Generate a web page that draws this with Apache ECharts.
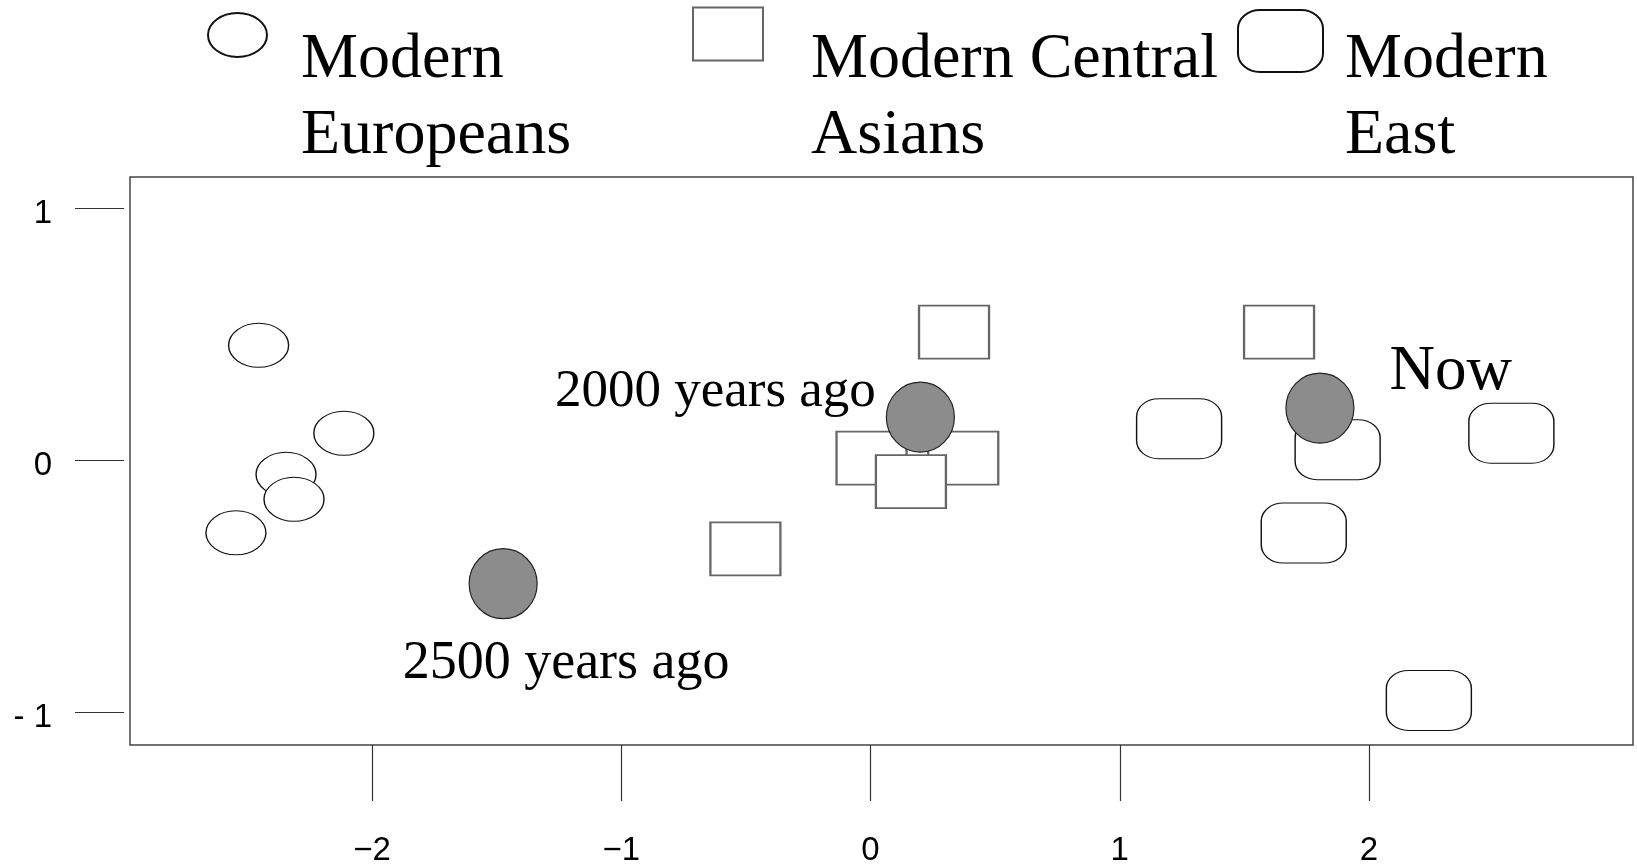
<!DOCTYPE html>
<html>
<head>
<meta charset="utf-8">
<script src="https://cdn.jsdelivr.net/npm/echarts@6/dist/echarts.min.js"></script>
<style>
html,body{margin:0;padding:0;background:#fff;}
#chart{width:1637px;height:867px;}
</style>
</head>
<body>
<div id="chart"></div>
<script>
// ---- data ----
const xTickValues = [-2, -1, 0, 1, 2];
const xTickLabels = ['\u22122', '\u22121', '0', '1', '2'];
const yTickValues = [-1, 0, 1];
const yTickLabels = ['- 1', '0', '1'];

const seriesNames = ['Modern\nEuropeans', 'Modern Central\nAsians', 'Modern\nEast'];

const europeansX = [-2.455, -2.113, -2.345, -2.313, -2.546];
const europeansY = [0.456, 0.107, -0.056, -0.155, -0.288];

const centralX = [0.335, 0.004, 0.372, 0.162, 1.639, -0.502];
const centralY = [0.508, 0.008, 0.008, -0.085, 0.508, -0.352];

const eastX = [1.238, 1.874, 2.571, 1.738, 2.240];
const eastY = [0.125, 0.042, 0.107, -0.289, -0.953];

const ancientNames = ['2500 years ago', '2000 years ago', 'Now'];
const ancientX = [-1.474, 0.200, 1.803];
const ancientY = [-0.490, 0.171, 0.207];

// ---- shapes ----
const ellipsePath = 'path://M0,22 A30,22 0 1 1 60,22 A30,22 0 1 1 0,22 Z';
const roundRectPath = 'path://M22,0 H63 A22,18 0 0 1 85,18 V42 A22,18 0 0 1 63,60 H22 A22,18 0 0 1 0,42 V18 A22,18 0 0 1 22,0 Z';
const circlePath = 'path://M0,35 A34,35 0 1 1 68,35 A34,35 0 1 1 0,35 Z';

const serif = 'Liberation Serif';
const sans = 'Liberation Sans';

function pairs(xs, ys) { return xs.map((x, i) => [x, ys[i]]); }

const ancientLabelStyle = {
  '2500 years ago': { position: 'inside', offset: [63, 80], fontSize: 54 },
  '2000 years ago': { position: 'left', distance: 10, offset: [0, -25], fontSize: 53 },
  'Now': { position: 'right', distance: 35, offset: [0, -36], fontSize: 63 }
};

const ancientData = ancientNames.map((n, i) => {
  const s = ancientLabelStyle[n];
  return {
    name: n,
    value: [ancientX[i], ancientY[i]],
    label: {
      show: true, formatter: n, position: s.position, distance: s.distance || 0,
      offset: s.offset, fontSize: s.fontSize, fontFamily: serif, color: '#000'
    }
  };
});

function makeLegend(name, icon, left, top, w, h, padTop, padLeft) {
  return {
    data: [{ name: name, icon: icon }],
    left: left, top: top, padding: 0,
    itemWidth: w, itemHeight: h,
    symbolKeepAspect: false,
    selectedMode: false,
    formatter: n => '{pad|\u00a0}\n{t|' + n.split('\n').join('}\n{t|') + '}',
    textStyle: {
      fontFamily: serif, fontSize: 64, color: '#000',
      padding: [0, 0, 0, padLeft],
      rich: {
        pad: { fontSize: 8, lineHeight: padTop, fontFamily: serif },
        t: { fontSize: 64, lineHeight: 76, fontFamily: serif, color: '#000' }
      }
    }
  };
}

const chart = echarts.init(document.getElementById('chart'), null, { renderer: 'canvas' });
chart.setOption({
  animation: false,
  backgroundColor: '#fff',
  legend: [
    makeLegend(seriesNames[0], ellipsePath, 207, -45, 59, 44, 127, 29),
    makeLegend(seriesNames[1], 'rect', 692, -46, 70, 53, 128, 43),
    makeLegend(seriesNames[2], roundRectPath, 1237, -39, 85, 62, 115, 17)
  ],
  grid: {
    left: 130, right: 4, top: 177, bottom: 120,
    show: true, borderColor: '#444', borderWidth: 1.5, backgroundColor: 'transparent'
  },
  xAxis: {
    type: 'value', min: -2.971, max: 3.059,
    axisLine: { show: false, onZero: false },
    splitLine: { show: false },
    axisTick: { show: true, length: 56, customValues: xTickValues, lineStyle: { color: '#333', width: 1.2 } },
    axisLabel: {
      customValues: xTickValues, margin: 89, fontFamily: sans, fontSize: 33, color: '#000',
      formatter: v => xTickLabels[xTickValues.indexOf(Math.round(v))]
    }
  },
  yAxis: {
    type: 'value', min: -1.130, max: 1.124, offset: 6,
    axisLine: { show: false, onZero: false },
    splitLine: { show: false },
    axisTick: { show: true, length: 49, customValues: yTickValues, lineStyle: { color: '#333', width: 1.2 } },
    axisLabel: {
      customValues: yTickValues, margin: 72, fontFamily: sans, fontSize: 33, color: '#000',
      verticalAlign: 'top', lineHeight: 11,
      formatter: v => yTickLabels[yTickValues.indexOf(Math.round(v))]
    }
  },
  series: [
    {
      name: seriesNames[0], type: 'scatter', data: pairs(europeansX, europeansY),
      symbol: ellipsePath, symbolSize: [60, 44],
      itemStyle: { color: '#fff', borderColor: '#111', borderWidth: 1.2, opacity: 1 }
    },
    {
      name: seriesNames[1], type: 'scatter', data: pairs(centralX, centralY),
      symbol: 'rect', symbolSize: [70, 53],
      itemStyle: { color: '#fff', borderColor: '#666', borderWidth: 2, opacity: 1 }
    },
    {
      name: seriesNames[2], type: 'scatter', data: pairs(eastX, eastY),
      symbol: roundRectPath, symbolSize: [85, 60],
      itemStyle: { color: '#fff', borderColor: '#111', borderWidth: 1.2, opacity: 1 }
    },
    {
      name: 'Ancient', type: 'scatter', data: ancientData,
      symbol: circlePath, symbolSize: [68, 70],
      itemStyle: { color: '#8c8c8c', borderColor: '#222', borderWidth: 1.2, opacity: 1 }
    }
  ]
});
</script>
</body>
</html>
